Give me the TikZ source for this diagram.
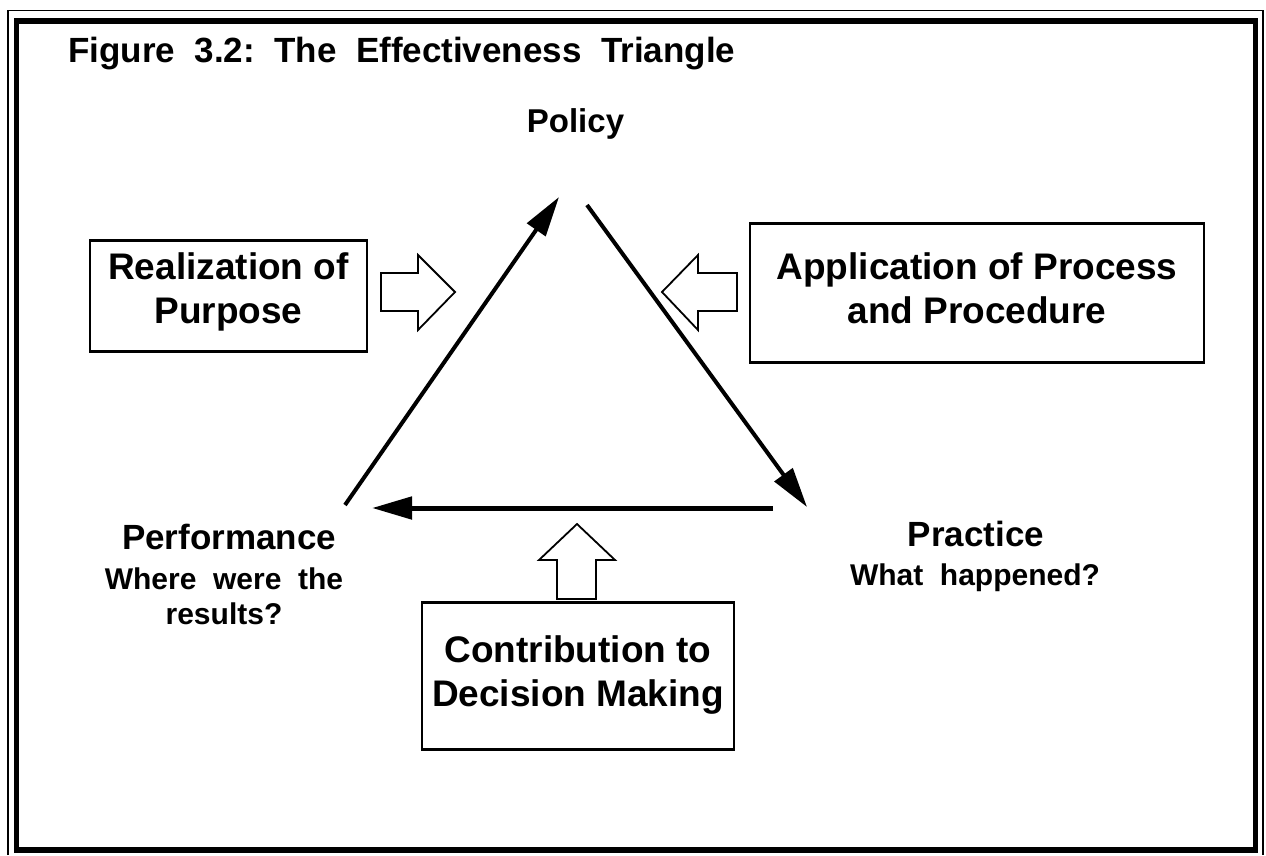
\documentclass[tikz,border=0pt]{standalone}
\usepackage{fontspec}
\setmainfont{Liberation Sans}
\usetikzlibrary{positioning,arrows.meta}

\begin{document}
\begin{tikzpicture}[x=1pt,y=-1pt,
      box/.style={draw,line width=2.8pt,inner sep=0pt,align=center,anchor=north,
                  font=\bfseries\fontsize{37}{44}\selectfont},
      vert/.style={inner sep=0pt,anchor=base,font=\bfseries\fontsize{35}{40}\selectfont},
      ques/.style={inner sep=0pt,align=center,font=\bfseries\fontsize{30}{35}\selectfont},
      side/.style={line width=4pt,-{Triangle[length=40pt,width=22pt]}},
      blk/.style={draw,line width=1.8pt,line join=miter,fill=white}]
    \useasboundingbox (0,0) rectangle (1266,855);
    % frame
    \draw[line width=5.5pt] (16.5,21) rectangle (1255.5,850);
    \draw[line width=1.2pt] (8,855) -- (8,10.5) -- (1263,10.5) -- (1263,855);
    \node[anchor=base west,inner sep=0pt,font=\bfseries\fontsize{35}{40}\selectfont] (title)
      at (68,62) {Figure\ \ 3.2:\ \ The\ \ Effectiveness\ \ Triangle};
    % corners of the triangle
    \node[vert,font=\bfseries\fontsize{33}{40}\selectfont] (policy) at (575.5,132) {Policy};
    \node[vert] (perf) at (229,549) {Performance};
    \node[ques,anchor=north] (perfq) at (224,568) {Where\ \ were\ \ the\\results?};
    \node[vert] (prac) at (976,546) {Practice};
    \node[ques,anchor=base] (pracq) at (975,585) {What\ \ happened?};
    \coordinate (polTip) at (559,197);
    \coordinate (polTail) at (587,205);
    \coordinate (pracTip) at (807,507);
    \coordinate (pracTail) at (773,508);
    \coordinate (perfTip) at (372,508);
    \coordinate (perfTail) at (345,505);
    \draw[side] (perfTail) -- (polTip);
    \draw[side] (polTail) -- (pracTip);
    \draw[side,line width=5pt] (pracTail) -- (perfTip);
    % boxes
    \node[box,minimum width=277pt,text height=83pt,text depth=28pt] (purpose)
      at (228.5,239) {Realization of\\Purpose};
    \node[box,minimum width=454pt,text height=100pt,text depth=39pt] (process)
      at (977,222) {Application of Process\\and Procedure};
    \node[box,minimum width=312pt,text height=104pt,text depth=43pt] (contrib)
      at (578,601) {Contribution to\\Decision Making};
    % open arrows
    \draw[blk] (381,273) -- (418,273) -- (418,255) -- (455,292) -- (418,330) -- (418,311) -- (381,311) -- cycle;
    \draw[blk] (737,273) -- (698,273) -- (698,255) -- (662,292) -- (698,330) -- (698,311) -- (737,311) -- cycle;
    \draw[blk] (557,599) -- (557,560) -- (539,560) -- (577,524) -- (615,560) -- (596,560) -- (596,599) -- cycle;
  \end{tikzpicture}
\end{document}
